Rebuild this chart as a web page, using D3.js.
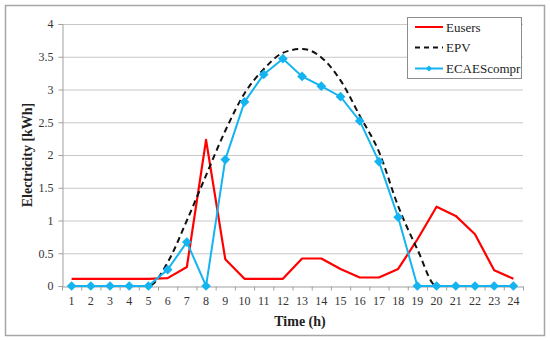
<!DOCTYPE html>
<html>
<head>
<meta charset="utf-8">
<script src="https://cdn.jsdelivr.net/npm/d3@7"></script>
<style>
  body { margin: 0; background: #fff; }
  svg text { font-family: "Liberation Serif", "DejaVu Serif", serif; }
</style>
</head>
<body>
<svg id="chart" width="550" height="341"></svg>
<script>
// hours on the x axis
const hours = d3.range(1, 25);
const yTicks = [0, 0.5, 1, 1.5, 2, 2.5, 3, 3.5, 4];

// values (kWh)
const eusers = [0.11, 0.11, 0.11, 0.11, 0.11, 0.12, 0.29, 2.23, 0.41, 0.11, 0.11, 0.11,
                0.42, 0.42, 0.26, 0.13, 0.13, 0.26, 0.71, 1.21, 1.07, 0.79, 0.24, 0.11];
const epv = [0, 0, 0, 0, 0, 0.36, 1.0, 1.69, 2.37, 2.94, 3.31, 3.56,
             3.62, 3.49, 3.14, 2.6, 2.05, 1.22, 0.56, 0, 0, 0, 0, 0];
const ecaes = [0, 0, 0, 0, 0, 0.25, 0.67, 0, 1.93, 2.81, 3.23, 3.47,
               3.2, 3.05, 2.89, 2.52, 1.9, 1.05, 0, 0, 0, 0, 0, 0];

const RED = "#ff0000", BLUE = "#14b4f0", GRID = "#c8c8c8", AXIS = "#a0a0a0";
const FONT = "Liberation Serif";

const svg = d3.select("#chart");

// outer chart border
svg.append("rect")
    .attr("x", 5.5).attr("y", 5.5)
    .attr("width", 539).attr("height", 330)
    .attr("fill", "#fff")
    .attr("stroke", "#a6a6a6")
    .attr("stroke-width", 1.5);

const plot = { left: 62, right: 523, top: 24, bottom: 286 };

const x = d3.scaleBand()
    .domain(hours)
    .range([plot.left, plot.right]);

const y = d3.scaleLinear()
    .domain([0, 4])
    .range([plot.bottom, plot.top]);

const cx = h => x(h) + x.bandwidth() / 2;

// horizontal grid
svg.append("g")
    .selectAll("line")
    .data(yTicks.slice(1))
    .join("line")
    .attr("x1", plot.left).attr("x2", plot.right)
    .attr("y1", d => y(d) + 0.5).attr("y2", d => y(d) + 0.5)
    .attr("stroke", GRID)
    .attr("stroke-width", 1);

// y axis
const yAxis = svg.append("g")
    .attr("transform", `translate(${plot.left + 0.5},0)`)
    .call(d3.axisLeft(y).tickValues(yTicks).tickSize(4).tickPadding(5).tickFormat(d3.format("")));
yAxis.attr("font-family", FONT).attr("font-size", 12);
yAxis.select(".domain").attr("stroke", AXIS);
yAxis.selectAll(".tick line").attr("stroke", AXIS);
yAxis.selectAll(".tick text").attr("fill", "#333");

// x axis, ticks between categories
const xAxis = svg.append("g")
    .attr("transform", `translate(0,${plot.bottom + 0.5})`)
    .call(d3.axisBottom(x).tickSize(0).tickPadding(10));
xAxis.attr("font-family", FONT).attr("font-size", 12);
xAxis.select(".domain").attr("stroke", AXIS);
xAxis.selectAll(".tick text").attr("fill", "#333");
xAxis.selectAll("line.sep")
    .data(hours.concat([25]))
    .join("line")
    .attr("class", "sep")
    .attr("x1", d => (d === 25 ? plot.right : x(d)) + 0.5)
    .attr("x2", d => (d === 25 ? plot.right : x(d)) + 0.5)
    .attr("y1", 0).attr("y2", 4)
    .attr("stroke", AXIS);

// axis titles
svg.append("text")
    .attr("x", 300).attr("y", 326)
    .attr("text-anchor", "middle")
    .attr("font-family", FONT)
    .attr("font-size", 14)
    .attr("font-weight", "bold")
    .attr("fill", "#222")
    .text("Time (h)");

svg.append("text")
    .attr("transform", `translate(32,${(plot.top + plot.bottom) / 2}) rotate(-90)`)
    .attr("text-anchor", "middle")
    .attr("font-family", FONT)
    .attr("font-size", 14)
    .attr("font-weight", "bold")
    .attr("fill", "#222")
    .text("Electricity  [kWh]");

// series
const line = d3.line()
    .x((d, i) => cx(hours[i]))
    .y(d => y(d));

svg.append("path")
    .datum(eusers)
    .attr("d", line)
    .attr("fill", "none")
    .attr("stroke", RED)
    .attr("stroke-width", 2.2)
    .attr("stroke-linejoin", "round");

svg.append("path")
    .datum(epv)
    .attr("d", line.curve(d3.curveMonotoneX))
    .attr("fill", "none")
    .attr("stroke", "#111")
    .attr("stroke-width", 2)
    .attr("stroke-dasharray", "6,4");

line.curve(d3.curveLinear);

svg.append("path")
    .datum(ecaes)
    .attr("d", line)
    .attr("fill", "none")
    .attr("stroke", BLUE)
    .attr("stroke-width", 2);

const diamond = d3.symbol().type(d3.symbolDiamond2).size(60);
svg.append("g")
    .selectAll("path")
    .data(ecaes)
    .join("path")
    .attr("transform", (d, i) => `translate(${cx(hours[i])},${y(d)})`)
    .attr("d", diamond)
    .attr("fill", BLUE);

// legend
const lg = svg.append("g").attr("font-family", FONT);
lg.append("rect")
    .attr("x", 407.5).attr("y", 17.5)
    .attr("width", 114).attr("height", 61)
    .attr("fill", "#fff")
    .attr("stroke", "#8c8c8c")
    .attr("stroke-width", 1);

const legendItems = [
    { name: "Eusers", color: RED, dash: null, marker: false },
    { name: "EPV", color: "#111", dash: "5,4", marker: false },
    { name: "ECAEScompr", color: BLUE, dash: null, marker: true }
];
const rowY = [27, 47.5, 68.5];
legendItems.forEach((it, i) => {
    const yy = rowY[i];
    lg.append("line")
        .attr("x1", 415).attr("x2", 443)
        .attr("y1", yy).attr("y2", yy)
        .attr("stroke", it.color)
        .attr("stroke-width", 2)
        .attr("stroke-dasharray", it.dash);
    if (it.marker) {
        lg.append("path")
            .attr("transform", `translate(429,${yy})`)
            .attr("d", d3.symbol().type(d3.symbolDiamond2).size(24))
            .attr("fill", it.color);
    }
    lg.append("text")
        .attr("x", 446).attr("y", yy + 4.5)
        .attr("font-family", FONT)
        .attr("font-size", 13)
        .attr("fill", "#222")
        .text(it.name);
});
</script>
</body>
</html>
